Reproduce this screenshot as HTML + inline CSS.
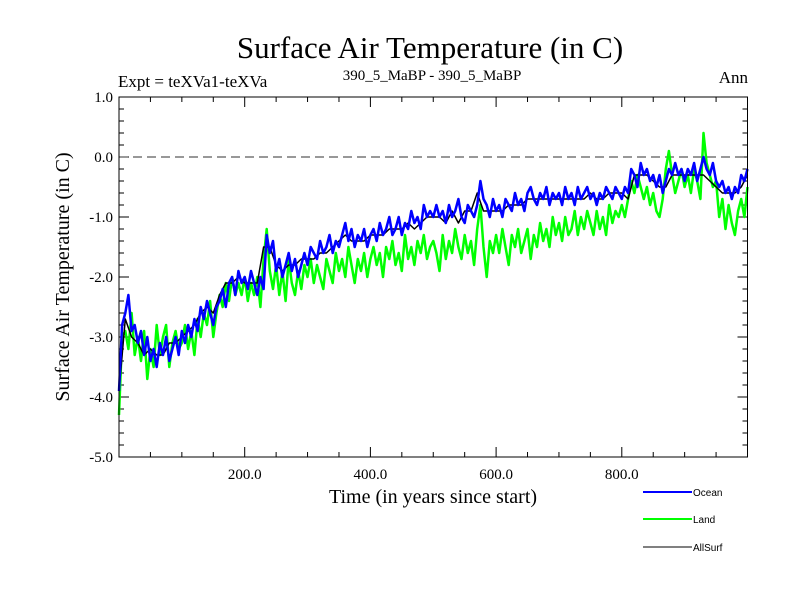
<!DOCTYPE html>
<html><head><meta charset="utf-8"><style>
html,body{margin:0;padding:0;background:#fff;}
svg{display:block;}
</style></head><body>
<svg id="chart" width="800" height="600" viewBox="0 0 800 600" xmlns="http://www.w3.org/2000/svg" font-family="'Liberation Serif', serif">
<rect width="800" height="600" fill="#fff"/>
<text x="430" y="58" font-size="31" text-anchor="middle">Surface Air Temperature (in C)</text>
<text x="118" y="87" font-size="17">Expt = teXVa1-teXVa</text>
<text x="432" y="80" font-size="15" text-anchor="middle">390_5_MaBP - 390_5_MaBP</text>
<text x="748" y="83" font-size="17" text-anchor="end">Ann</text>
<text transform="translate(69,277) rotate(-90)" font-size="20" text-anchor="middle">Surface Air Temperature (in C)</text>
<text x="433" y="503" font-size="20" text-anchor="middle">Time (in years since start)</text>
<g id="ticks"></g>
<g id="series"></g>
<rect x="119" y="97" width="628.5" height="360" fill="none" stroke="#000" stroke-width="1"/>
<g font-family="'Liberation Sans', sans-serif" font-size="10">
<line x1="643" y1="492" x2="692" y2="492" stroke="#00f" stroke-width="2"/>
<text x="693" y="496">Ocean</text>
<line x1="643" y1="519" x2="692" y2="519" stroke="#0f0" stroke-width="2"/>
<text x="693" y="523">Land</text>
<line x1="643" y1="547" x2="692" y2="547" stroke="#000" stroke-width="1"/>
<text x="693" y="551">AllSurf</text>
</g>
</svg>
<script>
const xTickValues = [200, 400, 600, 800];
const xTickLabels = ["200.0", "400.0", "600.0", "800.0"];
const yTickValues = [1, 0, -1, -2, -3, -4, -5];
const yTickLabels = ["1.0", "0.0", "-1.0", "-2.0", "-3.0", "-4.0", "-5.0"];
const oceanStep = 5;
const ocean = [
-3.9,-2.8,-2.6,-2.3,-2.9,-2.8,-3.1,-2.9,-3.3,-3.0,-3.4,-3.2,-3.5,-3.1,-3.3,-3.0,-3.4,-3.2,-3.0,-3.3,
-2.9,-3.1,-2.8,-3.0,-2.7,-2.9,-2.5,-2.7,-2.4,-2.6,-2.8,-2.5,-2.4,-2.2,-2.5,-2.1,-2.0,-2.3,-1.9,-2.1,
-2.0,-2.2,-1.9,-2.1,-2.3,-2.0,-2.2,-1.3,-1.6,-1.4,-1.9,-1.7,-2.0,-1.8,-1.6,-1.9,-1.7,-2.0,-1.8,-1.6,
-1.8,-1.5,-1.6,-1.7,-1.4,-1.6,-1.5,-1.3,-1.6,-1.4,-1.5,-1.3,-1.1,-1.4,-1.2,-1.5,-1.3,-1.4,-1.2,-1.5,
-1.3,-1.2,-1.4,-1.1,-1.3,-1.2,-1.0,-1.3,-1.2,-1.0,-1.3,-1.1,-1.2,-0.9,-1.1,-1.0,-1.2,-0.8,-1.0,-0.9,
-1.0,-0.8,-1.0,-0.9,-1.1,-0.8,-1.0,-0.9,-0.7,-1.0,-1.1,-0.8,-0.9,-1.0,-0.8,-0.4,-0.7,-0.8,-1.0,-0.7,
-0.9,-0.8,-1.0,-0.7,-0.8,-0.9,-0.6,-0.8,-0.7,-0.9,-0.6,-0.5,-0.7,-0.8,-0.6,-0.7,-0.5,-0.8,-0.6,-0.7,
-0.6,-0.8,-0.5,-0.7,-0.6,-0.8,-0.5,-0.7,-0.6,-0.5,-0.7,-0.6,-0.8,-0.6,-0.7,-0.5,-0.6,-0.7,-0.5,-0.6,
-0.7,-0.5,-0.6,-0.2,-0.3,-0.5,-0.1,-0.3,-0.2,-0.4,-0.3,-0.5,-0.3,-0.6,-0.4,-0.2,-0.3,-0.1,-0.3,-0.2,
-0.4,-0.2,-0.3,-0.1,-0.4,-0.2,0.0,-0.2,-0.3,-0.1,-0.4,-0.5,-0.4,-0.6,-0.5,-0.7,-0.5,-0.6,-0.3,-0.4,-0.2
];
const landStep = 5;
const land = [
-4.3,-3.0,-2.9,-3.2,-2.6,-3.3,-3.0,-3.4,-2.9,-3.7,-3.2,-3.5,-2.8,-3.3,-3.0,-2.8,-3.5,-3.1,-2.9,-3.2,
-3.1,-2.8,-3.2,-2.9,-3.3,-2.7,-3.0,-2.6,-2.8,-2.4,-3.0,-2.6,-2.3,-2.5,-2.1,-2.4,-2.0,-2.3,-2.1,-2.3,
-2.0,-2.4,-2.1,-2.3,-2.0,-2.5,-1.7,-1.2,-1.9,-2.2,-1.8,-2.3,-1.9,-2.4,-1.7,-2.1,-2.3,-1.9,-2.2,-1.8,
-2.0,-1.7,-2.1,-1.8,-2.0,-2.2,-1.7,-1.9,-2.1,-1.6,-1.9,-1.7,-2.0,-1.5,-1.8,-2.1,-1.7,-1.9,-1.6,-2.0,
-1.7,-1.5,-1.8,-1.6,-2.0,-1.5,-1.7,-1.4,-1.8,-1.6,-1.9,-1.3,-1.7,-1.5,-1.8,-1.4,-1.6,-1.3,-1.7,-1.5,
-1.4,-1.6,-1.9,-1.3,-1.7,-1.4,-1.6,-1.2,-1.5,-1.7,-1.3,-1.6,-1.4,-1.8,-1.2,-0.8,-1.5,-2.0,-1.4,-1.6,
-1.3,-1.6,-1.2,-1.5,-1.8,-1.3,-1.5,-1.2,-1.6,-1.4,-1.2,-1.7,-1.3,-1.5,-1.1,-1.4,-1.2,-1.5,-1.0,-1.3,
-1.1,-1.4,-1.0,-1.3,-1.2,-0.9,-1.3,-1.0,-1.2,-0.9,-1.1,-1.3,-0.9,-1.2,-1.0,-1.3,-0.8,-1.1,-0.9,-1.0,
-0.8,-1.0,-0.7,-0.4,-0.6,-0.3,-0.5,-0.7,-0.5,-0.8,-0.6,-0.9,-1.0,-0.7,-0.2,0.1,-0.3,-0.6,-0.4,-0.2,
-0.5,-0.3,-0.6,-0.2,-0.4,-0.7,0.4,-0.1,-0.3,-0.5,-0.4,-1.0,-0.7,-1.2,-0.8,-1.1,-1.3,-0.9,-0.7,-1.0,-0.5
];
const allSurfStep = 10;
const allSurf = [
-3.9,-2.7,-3.0,-3.1,-3.3,-3.2,-3.3,-3.3,-3.1,-3.1,
-3.0,-2.9,-2.8,-2.6,-2.5,-2.6,-2.3,-2.1,-2.1,-2.0,
-2.1,-2.1,-2.1,-1.5,-1.5,-1.8,-1.9,-1.8,-1.8,-1.7,
-1.7,-1.7,-1.6,-1.6,-1.5,-1.4,-1.3,-1.4,-1.4,-1.4,
-1.3,-1.3,-1.3,-1.2,-1.2,-1.2,-1.1,-1.2,-1.1,-1.0,
-1.0,-1.0,-1.1,-0.9,-1.1,-0.9,-0.9,-0.6,-0.9,-0.9,
-0.9,-0.9,-0.8,-0.8,-0.8,-0.7,-0.7,-0.7,-0.7,-0.7,
-0.7,-0.7,-0.7,-0.7,-0.7,-0.6,-0.7,-0.7,-0.6,-0.6,
-0.6,-0.7,-0.3,-0.3,-0.3,-0.4,-0.5,-0.5,-0.3,-0.3,
-0.3,-0.3,-0.3,-0.3,-0.4,-0.5,-0.6,-0.6,-0.6,-0.5,-0.3
];

const NS = "http://www.w3.org/2000/svg";
const X0 = 119, X1 = 747.5, Y0 = 97, Y1 = 457;
function xScale(v){ return X0 + (v - 0) / 1000 * (X1 - X0); }
function yScale(v){ return Y0 + (1 - v) / 6 * (Y1 - Y0); }
function mk(tag, attrs){ const e = document.createElementNS(NS, tag); for (const k in attrs) e.setAttribute(k, attrs[k]); return e; }

const ticks = document.getElementById('ticks');
for (let v = 50; v < 1000; v += 50) {
  const major = v % 200 === 0;
  const len = major ? 10 : 5;
  const x = xScale(v);
  const b = mk('line', {x1:x, y1:Y1, x2:x, y2:Y1-len, stroke:'#000'});
  
  
  ticks.appendChild(b);
  const t = mk('line', {x1:x, y1:Y0, x2:x, y2:Y0+len, stroke:'#000'});
  
  
  ticks.appendChild(t);
}
xTickValues.forEach((v, i) => {
  const tx = mk('text', {x:xScale(v), y:Y1+22, 'font-size':15, 'text-anchor':'middle'});
  
  
  tx.textContent = xTickLabels[i];
  ticks.appendChild(tx);
});
for (let k = 0; k <= 30; k++) {
  const v = 1 - k * 0.2;
  const major = k % 5 === 0;
  const len = major ? 10 : 5;
  const y = yScale(v);
  const l = mk('line', {x1:X0, y1:y, x2:X0+len, y2:y, stroke:'#000'});
  
  
  ticks.appendChild(l);
  const r = mk('line', {x1:X1, y1:y, x2:X1-len, y2:y, stroke:'#000'});
  
  
  ticks.appendChild(r);
}
yTickValues.forEach((v, i) => {
  const ty = mk('text', {x:X0-6, y:yScale(v)+5, 'font-size':15, 'text-anchor':'end'});
  
  
  ty.textContent = yTickLabels[i];
  ticks.appendChild(ty);
});

const series = document.getElementById('series');
const zero = mk('line', {x1:X0, y1:yScale(0), x2:X1, y2:yScale(0), stroke:'#777', 'stroke-width':1.5, 'stroke-dasharray':'9,5'});


series.appendChild(zero);

function drawLine(vals, step, color, width, name){
  const pts = vals.map((v, i) => xScale(i * step).toFixed(1) + ',' + yScale(v).toFixed(1)).join(' ');
  const p = mk('polyline', {points:pts, fill:'none', stroke:color, 'stroke-width':width, 'stroke-linejoin':'round'});
  
  
  series.appendChild(p);
}
drawLine(land, landStep, '#00ff00', 2.5, 'land-line');
drawLine(allSurf, allSurfStep, '#000000', 1.5, 'allsurf-line');
drawLine(ocean, oceanStep, '#0000ff', 2.5, 'ocean-line');
</script>
</body></html>
